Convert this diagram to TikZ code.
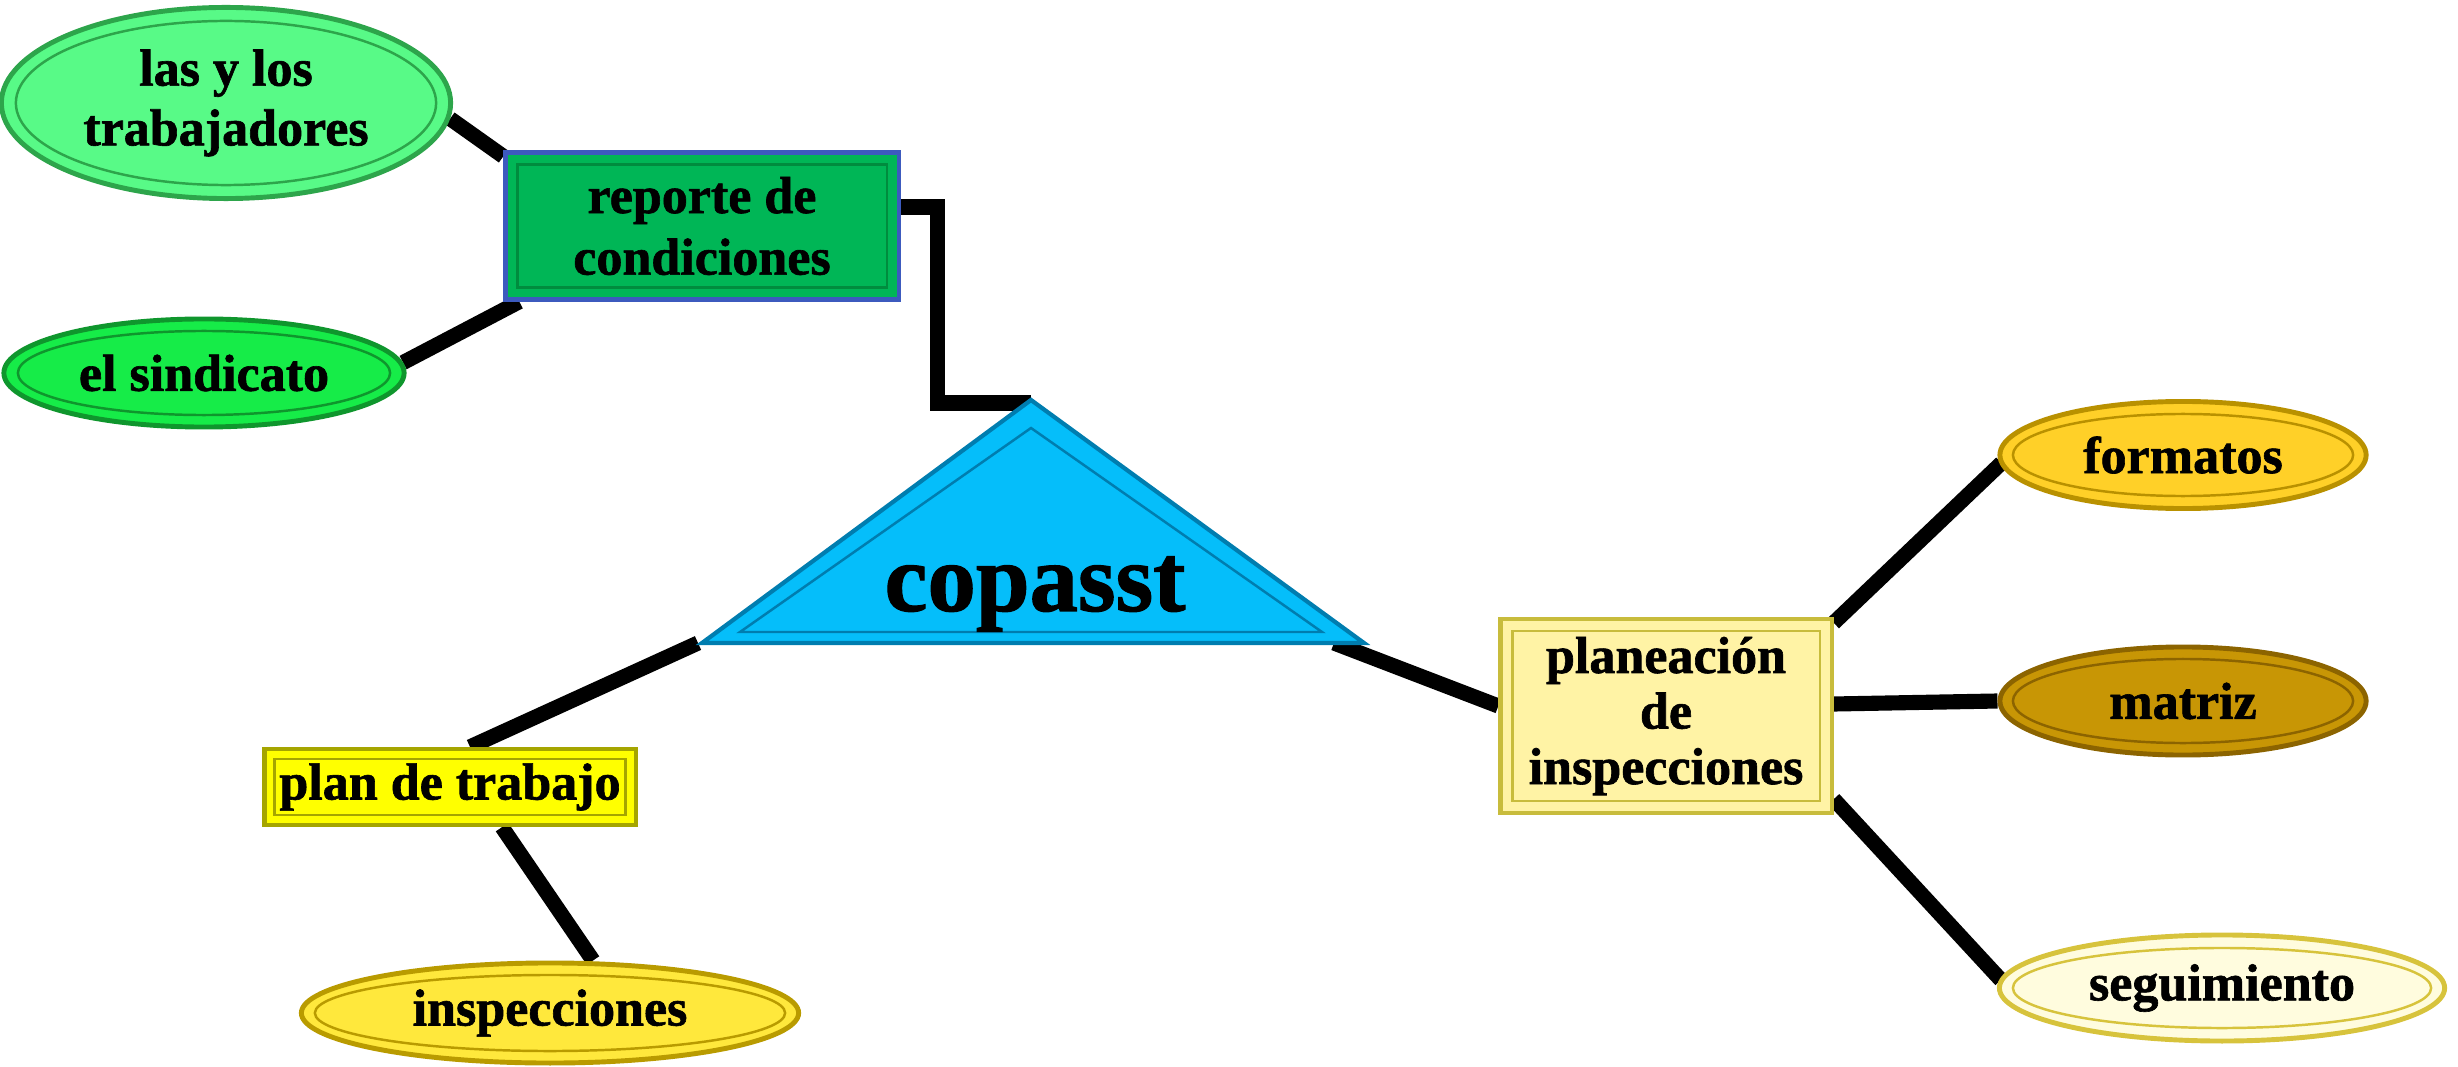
\documentclass[tikz,border=0pt]{standalone}
\usepackage{fontspec}
\setmainfont{Liberation Serif}[BoldFeatures={FakeBold=1.2}]
\usetikzlibrary{backgrounds,calc,shapes.geometric}
\definecolor{cEa}{RGB}{88,250,135}
\definecolor{cEad}{RGB}{45,165,75}
\definecolor{cEb}{RGB}{22,236,72}
\definecolor{cEbd}{RGB}{15,150,45}
\definecolor{cRep}{RGB}{0,182,86}
\definecolor{cRepd}{RGB}{60,90,190}
\definecolor{cRepi}{RGB}{0,140,62}
\definecolor{cTri}{RGB}{5,190,250}
\definecolor{cTrid}{RGB}{0,125,175}
\definecolor{cPlan}{RGB}{255,255,0}
\definecolor{cPland}{RGB}{165,165,0}
\definecolor{cInsp}{RGB}{255,232,60}
\definecolor{cInspd}{RGB}{185,155,0}
\definecolor{cPlb}{RGB}{255,243,165}
\definecolor{cPlbd}{RGB}{200,188,60}
\definecolor{cForm}{RGB}{255,208,40}
\definecolor{cFormd}{RGB}{185,145,0}
\definecolor{cMatr}{RGB}{200,150,5}
\definecolor{cMatrd}{RGB}{140,100,0}
\definecolor{cSeg}{RGB}{255,252,222}
\definecolor{cSegd}{RGB}{215,195,60}
\begin{document}
\begin{tikzpicture}[x=0.01cm,y=-0.01cm,
  lbl/.style={font=\fontsize{14.8}{17}\selectfont\bfseries, align=center, inner sep=0pt, text=black},
  ell/.style={lbl, ellipse, draw, line width=1.4pt},
  box/.style={lbl, rectangle, draw, line width=1.2pt},
  conn/.style={line width=4.3pt, black, line join=miter},
  bev/.style={line width=0.7pt}]
\useasboundingbox (0,0) rectangle (2458,1067);

% triangle
\coordinate (tA) at (1031,400);
\coordinate (tL) at (702,643);
\coordinate (tR) at (1364,643);
\filldraw[fill=cTri, draw=cTrid, line width=1.2pt, line join=miter] (tA) -- (tR) -- (tL) -- cycle;
\draw[bev, draw=cTrid] (1031,428) -- (1322,632) -- (740,632) -- cycle;
\node[lbl, font=\fontsize{27.5}{30}\selectfont\bfseries] (cop) at (1035,594) {copasst};

% nodes
\node[ell, fill=cEa, draw=cEad, minimum width=4.49cm, minimum height=1.91cm] (e1) at (226,103) {las y los\\trabajadores};
\node[ell, fill=cEb, draw=cEbd, minimum width=4.0cm, minimum height=1.08cm] (e2) at (204,373) {el sindicato};
\node[box, fill=cRep, draw=cRepd, minimum width=3.93cm, minimum height=1.47cm, font=\fontsize{14.8}{17.5}\selectfont\bfseries] (rep) at (702,226) {reporte de\\condiciones};
\node[box, fill=cPlan, draw=cPland, minimum width=3.71cm, minimum height=0.76cm] (plan) at (450,787) {plan de trabajo};
\node[ell, fill=cInsp, draw=cInspd, minimum width=4.97cm, minimum height=1.0cm] (insp) at (550,1013) {inspecciones};
\node[box, fill=cPlb, draw=cPlbd, minimum width=3.31cm, minimum height=1.94cm, font=\fontsize{14.8}{15.8}\selectfont\bfseries] (plan2) at (1666,716) {planeación\\de\\inspecciones};
\node[ell, fill=cForm, draw=cFormd, minimum width=3.66cm, minimum height=1.07cm] (form) at (2183,455) {formatos};
\node[ell, fill=cMatr, draw=cMatrd, minimum width=3.66cm, minimum height=1.08cm] (matr) at (2183,701) {matriz};
\node[ell, fill=cSeg, draw=cSegd, minimum width=4.45cm, minimum height=1.06cm] (seg) at (2222,988) {seguimiento};

% bevels
\draw[bev, draw=cEad] (e1.center) ellipse [x radius=2.1cm, y radius=0.82cm];
\draw[bev, draw=cEbd] (e2.center) ellipse [x radius=1.86cm, y radius=0.42cm];
\draw[bev, draw=cInspd] (insp.center) ellipse [x radius=2.35cm, y radius=0.38cm];
\draw[bev, draw=cFormd] (form.center) ellipse [x radius=1.7cm, y radius=0.41cm];
\draw[bev, draw=cMatrd] (matr.center) ellipse [x radius=1.7cm, y radius=0.42cm];
\draw[bev, draw=cSegd] (seg.center) ellipse [x radius=2.09cm, y radius=0.4cm];
\draw[bev, draw=cRepi] ($(rep.north west)+(14,14)$) rectangle ($(rep.south east)+(-14,-14)$);
\draw[bev, draw=cPland] ($(plan.north west)+(12,12)$) rectangle ($(plan.south east)+(-12,-12)$);
\draw[bev, draw=cPlbd] ($(plan2.north west)+(14,14)$) rectangle ($(plan2.south east)+(-14,-14)$);

% connectors
\begin{scope}[on background layer]
\draw[conn] (e1.-4) -- ([shift={(0,6)}]rep.north west);
\draw[conn] (e2.3) -- ([shift={(16,0)}]rep.south west);
\draw[conn] ([shift={(0,-19)}]rep.east) -- ++(37,0) |- ([shift={(0,3)}]tA);
\draw[conn] ([shift={(-4,0)}]tL) -- ([shift={(20,0)}]plan.north);
\draw[conn] ([shift={(52,0)}]plan.south) -- ([shift={(43,0)}]insp.north);
\draw[conn] ([shift={(-30,0)}]tR) -- ([shift={(0,-10)}]plan2.west);
\draw[conn] ([shift={(0,6)}]plan2.north east) -- ([shift={(4,8)}]form.west);
\draw[conn] ([shift={(0,-12)}]plan2.east) -- (matr.west);
\draw[conn] ([shift={(0,-16)}]plan2.south east) -- ([shift={(4,-8)}]seg.west);
\end{scope}
\end{tikzpicture}
\end{document}
